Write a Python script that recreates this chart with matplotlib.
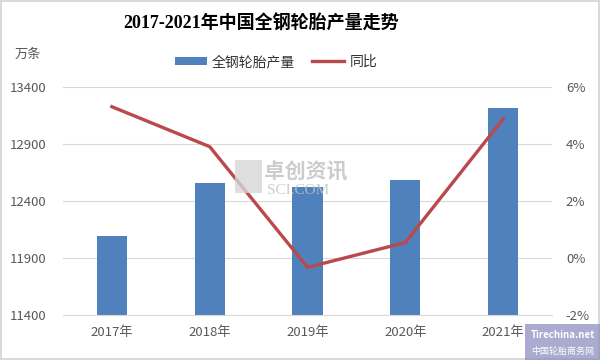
import matplotlib.pyplot as plt
import numpy as np
from matplotlib.patches import Rectangle

plt.rcParams['font.family'] = ['Noto Sans CJK SC', 'DejaVu Sans']

years = ['2017年', '2018年', '2019年', '2020年', '2021年']
output = [12090, 12560, 12520, 12585, 13210]      # 万条
yoy = [5.3, 3.9, -0.33, 0.54, 4.87]               # %

blue = '#4f81bd'
red = '#b9494c'
grey = '#595959'

fig = plt.figure(figsize=(6, 3.6), dpi=100)
fig.patch.set_edgecolor('#d9d9d9')
fig.patch.set_linewidth(1.5)
ax = fig.add_axes([0.105, 0.125, 0.815, 0.634])
ax2 = ax.twinx()

x = np.arange(len(years))
ax.bar(x, output, width=0.31, color=blue, zorder=2, label='全钢轮胎产量')
ax2.plot(x, yoy, color=red, lw=2.4, zorder=3, label='同比')

ax.set_xlim(-0.5, len(years) - 0.5)
ax.set_ylim(11400, 13400)
ax.set_yticks(np.arange(11400, 13401, 500))
ax2.set_ylim(-2, 6)
ax2.set_yticks(np.arange(-2, 7, 2))
ax2.set_yticklabels(['%d%%' % v for v in range(-2, 7, 2)])

ax.set_xticks(x)
ax.set_xticklabels(years)
ax.grid(axis='y', color='#d9d9d9', lw=0.8, zorder=0)

for a in (ax, ax2):
    for s in a.spines.values():
        s.set_visible(False)
    a.tick_params(length=0, labelsize=9.5, colors=grey)
ax.spines['bottom'].set_visible(True)
ax.spines['bottom'].set_color('#d9d9d9')
ax.tick_params(axis='y', pad=12)
ax.tick_params(axis='x', pad=8)
ax2.tick_params(axis='y', pad=10)

fig.text(0.435, 0.935, '2017-2021年中国全钢轮胎产量走势', ha='center', va='center',
         fontsize=13, fontweight='bold', family=['Liberation Serif', 'Noto Sans CJK SC'])
fig.text(0.025, 0.85, '万条', fontsize=9.5, color=grey, va='center')

h1, l1 = ax.get_legend_handles_labels()
h2, l2 = ax2.get_legend_handles_labels()
fig.legend(h1 + h2, l1 + l2, loc='center', bbox_to_anchor=(0.46, 0.828), ncol=2,
           frameon=False, fontsize=10, handlelength=2.3, handleheight=0.5,
           columnspacing=1.2, handletextpad=0.4, labelcolor='#333333')

# watermarks
fig.patches.append(Rectangle((0.392, 0.465), 0.045, 0.09, transform=fig.transFigure,
                             facecolor='#d6d6d6', edgecolor='none', alpha=0.8, zorder=4))
fig.text(0.44, 0.522, '卓创资讯', fontsize=15, color='#c4c4c4', fontweight='bold',
         va='center', alpha=0.85, zorder=4)
fig.text(0.445, 0.472, 'SCI.COM', fontsize=11, color='#c4c4c4', va='center',
         family='Liberation Serif', alpha=0.85, zorder=4)
fig.patches.append(Rectangle((0.875, 0.0), 0.125, 0.1, transform=fig.transFigure,
                             facecolor='#8e8fc0', alpha=0.75, edgecolor='none', zorder=5))
fig.text(0.9375, 0.07, 'Tirechina.net', fontsize=7, color='white', fontstyle='italic',
         fontweight='bold', ha='center', va='center', zorder=6)
fig.text(0.9375, 0.025, '中国轮胎商务网', fontsize=6.5, color='white', ha='center',
         va='center', zorder=6)

fig.savefig('out.png', dpi=100)
